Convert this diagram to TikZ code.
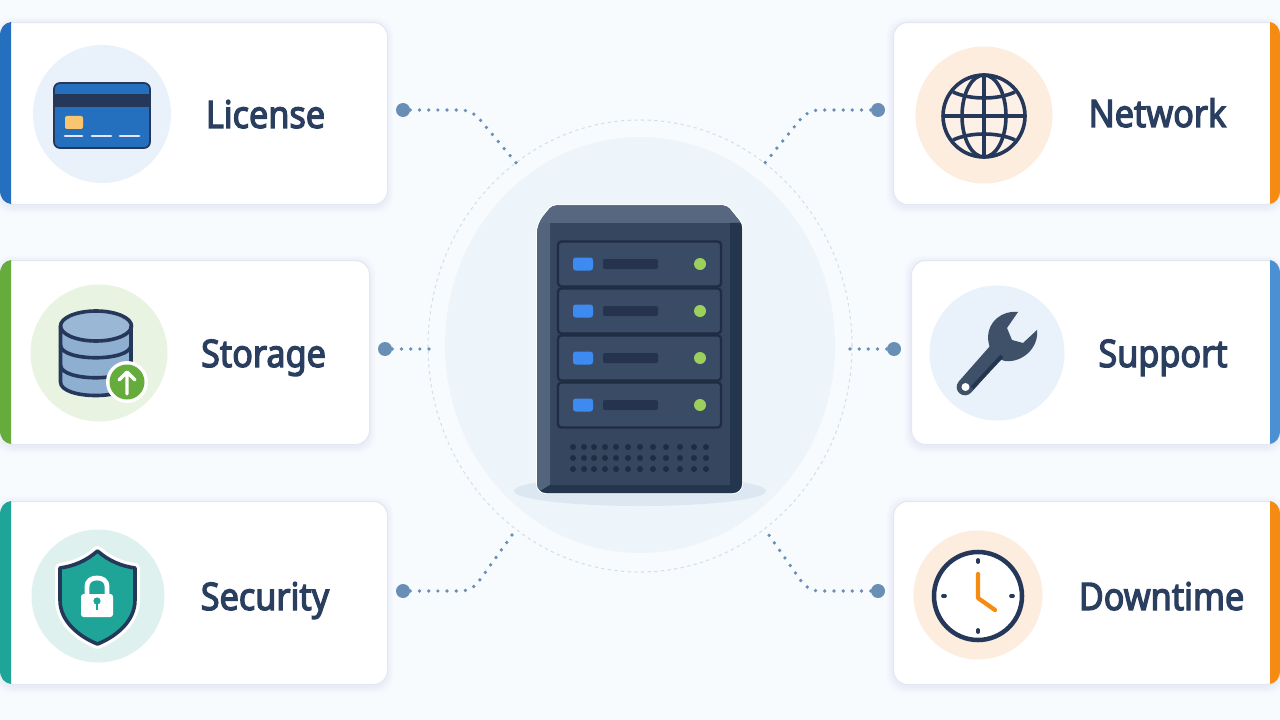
\documentclass[tikz,border=0pt]{standalone}
\usepackage{fontspec}
\setmainfont[FakeBold=3.2,FakeStretch=0.9]{Noto Sans}
\definecolor{page}{HTML}{F8FBFE}
\definecolor{ink}{HTML}{2A3F5F}
\definecolor{navy}{HTML}{25385A}
\definecolor{hubblue}{HTML}{6A8FB6}
\definecolor{linkblue}{HTML}{6A8FB6}
\definecolor{edge}{HTML}{E1E8F1}
\definecolor{accblue}{HTML}{2470BE}
\definecolor{accgreen}{HTML}{66AC3C}
\definecolor{accteal}{HTML}{1FA598}
\definecolor{accorange}{HTML}{F68B12}
\definecolor{accsky}{HTML}{4A90D2}
\definecolor{tintblue}{HTML}{E9F1FA}
\definecolor{tintgreen}{HTML}{E9F3E2}
\definecolor{tintteal}{HTML}{DEF1EF}
\definecolor{tintorange}{HTML}{FDEDDF}
\definecolor{halo}{HTML}{EDF4FA}
\definecolor{ringc}{HTML}{D3DFEB}
\definecolor{floorc}{HTML}{DCE7F2}
\definecolor{srvfront}{HTML}{36465F}
\definecolor{srvleft}{HTML}{53647D}
\definecolor{srvright}{HTML}{24354E}
\definecolor{srvtop}{HTML}{56677F}
\definecolor{srvbay}{HTML}{3A4B66}
\definecolor{srvline}{HTML}{1F2D42}
\definecolor{srvbar}{HTML}{25344C}
\definecolor{ledblue}{HTML}{3D8BF0}
\definecolor{ledgreen}{HTML}{9CCF5C}
\definecolor{dbfill}{HTML}{8FAFD0}
\definecolor{chipc}{HTML}{F9C66F}
\definecolor{wrenchc}{HTML}{3F5069}
\tikzset{
  x=0.75pt,y=-0.75pt,
  cardbox/.style={draw=edge,line width=0.8pt,fill=white,rounded corners=10.5pt,inner sep=0pt,anchor=north west},
  cardlabel/.style={text=ink,font=\fontsize{28.5}{30}\selectfont,anchor=base,inner sep=0pt},
  hub/.style={circle,fill=hubblue,minimum size=10.5pt,inner sep=0pt},
  link/.style={linkblue,line width=2.8pt,line cap=round,dash pattern=on 0pt off 6.9pt,rounded corners=8pt},
  softshadow/.style={fill=blue!30!gray,opacity=0.006,rounded corners=13pt},
  iconline/.style={draw=navy,line width=2.7pt},
  bayrect/.style={fill=srvbay,draw=srvline,line width=1.8pt,rounded corners=2.5pt},
}
\begin{document}
\begin{tikzpicture}
\useasboundingbox (0,0) rectangle (1280,720);
\fill[page] (0,0) rectangle (1280,720);

% soft shadows under the six cards
\foreach \xa/\ya/\xb/\yb in {0/22/387/204,0/260/369/444,0/501/387/684,893/22/1280/204,911/260/1280/444,893/501/1280/684}{
  \foreach \g in {1,2,...,7}{
    \fill[softshadow] (\xa-\g,\ya-\g+2) rectangle (\xb+\g,\yb+\g+3);
  }
}

% central halo and dashed ring
\fill[halo] (640,345) ellipse [x radius=195,y radius=208];
\draw[ringc,line width=0.8pt,dash pattern=on 2.4pt off 2.6pt] (640,346) ellipse [x radius=212,y radius=226];
\fill[floorc] (640,491) ellipse [x radius=126,y radius=15];

% cards
\node[cardbox,minimum width=290.25pt,minimum height=136.5pt] (license) at (0,22) {};
\node[cardbox,minimum width=276.75pt,minimum height=138pt] (storage) at (0,260) {};
\node[cardbox,minimum width=290.25pt,minimum height=137.25pt] (security) at (0,501) {};
\node[cardbox,minimum width=290.25pt,minimum height=136.5pt] (network) at (893,22) {};
\node[cardbox,minimum width=276.75pt,minimum height=138pt] (support) at (911,260) {};
\node[cardbox,minimum width=290.25pt,minimum height=137.25pt] (downtime) at (893,501) {};

% coloured card edges
\fill[accblue] (11,22) .. controls (4,23) and (0,28) .. (0,36) -- (0,190) .. controls (0,198) and (4,203) .. (11,204) -- cycle;
\fill[accgreen] (11,260) .. controls (4,261) and (0,266) .. (0,274) -- (0,430) .. controls (0,438) and (4,443) .. (11,444) -- cycle;
\fill[accteal] (11,501) .. controls (4,502) and (0,507) .. (0,515) -- (0,670) .. controls (0,678) and (4,683) .. (11,684) -- cycle;
\fill[accorange] (1270,22) .. controls (1276,23) and (1280,28) .. (1280,36) -- (1280,190) .. controls (1280,198) and (1276,203) .. (1270,204) -- cycle;
\fill[accsky] (1270,260) .. controls (1276,261) and (1280,266) .. (1280,274) -- (1280,430) .. controls (1280,438) and (1276,443) .. (1270,444) -- cycle;
\fill[accorange] (1270,501) .. controls (1276,502) and (1280,507) .. (1280,515) -- (1280,670) .. controls (1280,678) and (1276,683) .. (1270,684) -- cycle;

% icon discs
\fill[tintblue] (102,114) circle [radius=69];
\fill[tintgreen] (99,353) circle [radius=68.5];
\fill[tintteal] (98,596) circle [radius=66.5];
\fill[tintorange] (984,115) circle [radius=68.5];
\fill[tintblue] (997,353) circle [radius=67.5];
\fill[tintorange] (978,595) circle [radius=64.5];

% card labels
\node[cardlabel] (licensetext) at (265.5,128) {License};
\node[cardlabel] (storagetext) at (263.5,367) {Storage};
\node[cardlabel] (securitytext) at (265,610) {Security};
\node[cardlabel] (networktext) at (1157.5,127) {Network};
\node[cardlabel] (supporttext) at (1163,367) {Support};
\node[cardlabel] (downtimetext) at (1161.5,610) {Downtime};

% payment card icon
\fill[accblue,draw=navy,line width=1.3pt,rounded corners=4.5pt] (54,83) rectangle (150,148);
\fill[navy] (54.6,94) rectangle (149.4,107);
\fill[chipc,rounded corners=1.5pt] (65,116) rectangle (83,129);
\foreach \a/\b in {65/82,92/111,120/139}{
  \draw[white!90!blue,line width=2.2pt,line cap=round] (\a,136) -- (\b,136);
}

% database icon
\fill[dbfill] (60.5,326) -- (60.5,382) .. controls (60.5,400) and (131,400) .. (131,382) -- (131,326) -- cycle;
\fill[dbfill!90!white] (96,326) ellipse [x radius=35.5,y radius=15];
\draw[iconline] (96,326) ellipse [x radius=35.5,y radius=15];
\draw[iconline] (60.5,326) -- (60.5,382) .. controls (60.5,400) and (131,400) .. (131,382) -- (131,326);
\draw[iconline] (60.5,345) .. controls (60.5,362) and (131,362) .. (131,345);
\draw[iconline] (60.5,365) .. controls (60.5,382) and (131,382) .. (131,365);
\fill[white] (127,382) circle [radius=21];
\fill[accgreen] (127,382) circle [radius=17.5];
\draw[white,line width=2.4pt,line cap=round,line join=round] (127,394) -- (127,373) (119,380) -- (127,372) -- (135,380);

% shield icon
\path[draw=white,line width=7.5pt,line join=round] (97.5,551) .. controls (86,561) and (74,566) .. (60,568) -- (60,600) .. controls (60,622) and (80,637) .. (97.5,644) .. controls (115,637) and (135,622) .. (135,600) -- (135,568) .. controls (121,566) and (109,561) .. (97.5,551) -- cycle;
\path[fill=accteal,draw=navy,line width=2.7pt,line join=round] (97.5,551) .. controls (86,561) and (74,566) .. (60,568) -- (60,600) .. controls (60,622) and (80,637) .. (97.5,644) .. controls (115,637) and (135,622) .. (135,600) -- (135,568) .. controls (121,566) and (109,561) .. (97.5,551) -- cycle;
\draw[white,line width=3.6pt] (87,596) -- (87,587) .. controls (87,580) and (92,578) .. (97,578) .. controls (102,578) and (107,580) .. (107,587) -- (107,596);
\fill[white,rounded corners=2pt] (81,594) rectangle (113,617);
\fill[accteal] (97,601) circle [radius=3.6];
\draw[accteal,line width=2pt] (97,602) -- (97,610);

% globe icon
\fill[white,opacity=0.25] (984,116) circle [radius=42];
\draw[iconline] (984,116) circle [radius=41];
\draw[iconline] (984,116) ellipse [x radius=22,y radius=41];
\draw[iconline] (984,75) -- (984,157);
\draw[iconline] (943,116) -- (1025,116);
\draw[iconline] (953,92) .. controls (970,100) and (998,100) .. (1015,92);
\draw[iconline] (953,140) .. controls (970,132) and (998,132) .. (1015,140);

% wrench icon
\draw[wrenchc,line width=12.5pt,line cap=round] (1002,345) -- (965,387);
\fill[wrenchc] (1018,312) -- (1007,328) -- (1012,340) -- (1023,343) -- (1037,330)
  .. controls (1039,348) and (1022,363) .. (1005,361)
  .. controls (995,359) and (988,349) .. (988,337)
  .. controls (988,322) and (1002,310) .. (1018,312) -- cycle;
\draw[srvright,line width=3pt] (1002,356) -- (972,388);
\fill[white] (965.5,387) circle [radius=4];

% clock icon
\fill[white] (978,596) circle [radius=45];
\draw[navy,line width=3.4pt] (978,596) circle [radius=44];
\foreach \a/\b/\c/\d in {978/560/978/562,978/630/978/632,943/596/945/596,1011/596/1013/596}{
  \draw[navy,line width=2.8pt,line cap=round] (\a,\b) -- (\c,\d);
}
\draw[accorange,line width=3.2pt,line cap=round,line join=round] (978,574) -- (978,598) -- (995,610);

% server cabinet
\draw[white,line width=1.6pt,rounded corners=3pt] (537,224) -- (552,205.5) -- (727,205.5) -- (742,224) [rounded corners=7pt] -- (742,493) -- (537,493) -- cycle;
\begin{scope}
  \clip[rounded corners=3pt] (537,224) -- (552,205.5) -- (727,205.5) -- (742,224) [rounded corners=7pt] -- (742,493) -- (537,493) -- cycle;
  \fill[srvfront] (530,200) rectangle (750,500);
  \fill[srvtop] (530,200) rectangle (750,223);
  \fill[srvleft] (537,223) -- (550,223) -- (550,485) -- (537,493) -- cycle;
  \fill[srvright] (730,223) -- (742,223) -- (742,493) -- (730,485) -- cycle;
  \fill[srvright] (550,485) -- (730,485) -- (742,493) -- (537,493) -- cycle;
\end{scope}
\foreach \t/\m in {241.5/264,288.5/311,335.5/358,382.5/405}{
  \fill[bayrect] (558,\t) rectangle (721,\t+45);
  \fill[ledblue,rounded corners=2pt] (573,\m-6.5) rectangle (593,\m+6.5);
  \fill[srvbar,rounded corners=1.5pt] (603,\m-5) rectangle (658,\m+5);
  \fill[ledgreen] (700,\m) circle [radius=6];
}
\foreach \vx in {573,584,594,605,616,628,640,653,666,680,694,706}{
  \foreach \vy in {447,458,469}{
    \fill[srvline] (\vx,\vy) circle [radius=3];
  }
}

% connectors from the cards towards the central ring
\node[hub] (hublicense) at (403,110) {};
\node[hub] (hubstorage) at (385,349) {};
\node[hub] (hubsecurity) at (403,591) {};
\node[hub] (hubnetwork) at (878,110) {};
\node[hub] (hubsupport) at (894,349) {};
\node[hub] (hubdowntime) at (878,591) {};
\coordinate (bendlicense) at (472,110);
\coordinate (endlicense) at (517,164);
\coordinate (endstorage) at (431,349);
\coordinate (bendsecurity) at (472,591);
\coordinate (endsecurity) at (517,528);
\coordinate (bendnetwork) at (808,110);
\coordinate (endnetwork) at (764,164);
\coordinate (endsupport) at (849,349);
\coordinate (benddowntime) at (808,591);
\coordinate (enddowntime) at (764,528);
\draw[link] (hublicense) -- (bendlicense) -- (endlicense);
\draw[link] (hubstorage) -- (endstorage);
\draw[link] (hubsecurity) -- (bendsecurity) -- (endsecurity);
\draw[link] (hubnetwork) -- (bendnetwork) -- (endnetwork);
\draw[link] (hubsupport) -- (endsupport);
\draw[link] (hubdowntime) -- (benddowntime) -- (enddowntime);
\end{tikzpicture}
\end{document}
